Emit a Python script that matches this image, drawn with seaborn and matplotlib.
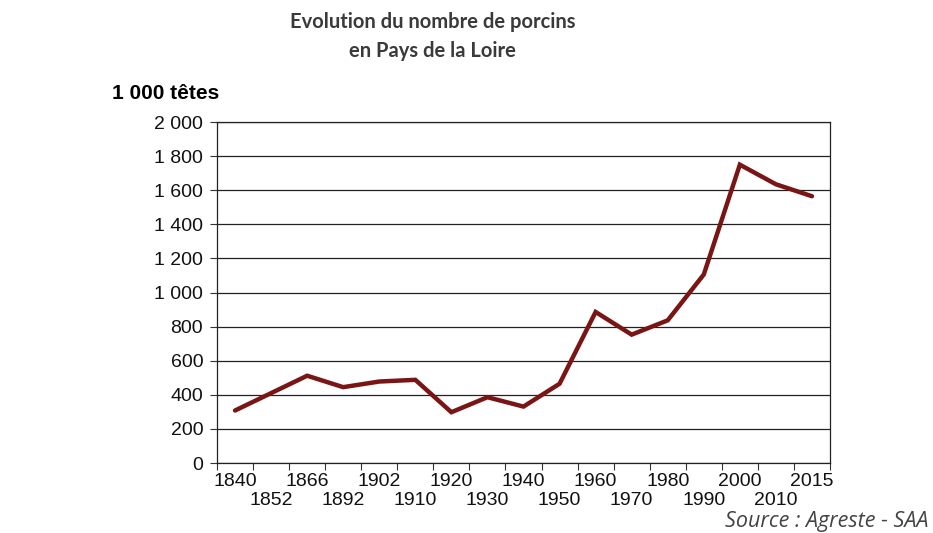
import matplotlib
matplotlib.use("Agg")
import matplotlib.pyplot as plt
import seaborn as sns
import pandas as pd
import numpy as np

# --- data ------------------------------------------------------------------
annees = ["1840", "1852", "1866", "1892", "1902", "1910", "1920", "1930", "1940",
          "1950", "1960", "1970", "1980", "1990", "2000", "2010", "2015"]
porcins = [308, 410, 512, 445, 478, 488, 298, 386, 331,
           465, 886, 753, 837, 1106, 1750, 1635, 1565]
y_ticks = [0, 200, 400, 600, 800, 1000, 1200, 1400, 1600, 1800, 2000]

df = pd.DataFrame({"annee": annees, "porcins": porcins})
df["pos"] = np.arange(len(df))

sns.set_theme(style="white")
plt.rcParams["font.family"] = ["Liberation Sans", "DejaVu Sans"]

fig = plt.figure(figsize=(9.33, 5.33), dpi=100)
ax = fig.add_axes([0.2326, 0.1313, 0.657, 0.6397])

sns.lineplot(data=df, x="pos", y="porcins", ax=ax, color="#7a1515",
             linewidth=3.2, solid_joinstyle="miter")

ax.set_xlim(-0.5, len(annees) - 0.5)
ax.set_ylim(0, 2000)
ax.set_yticks(y_ticks)
ax.set_yticklabels([f"{v:,}".replace(",", " ") for v in y_ticks], fontsize=14,
                   color="#111111")
ax.yaxis.grid(True, color="#222222", linewidth=0.9)
ax.set_axisbelow(True)

# ticks at category boundaries, labels at centres on two rows
ax.set_xticks(np.arange(-0.5, len(annees), 1.0))
ax.set_xticklabels([])
ax.set_xticks(df["pos"], minor=True)
ax.set_xticklabels(annees, minor=True, fontsize=14, color="#111111")
ax.tick_params(axis="x", which="major", direction="out", length=5, width=0.8,
               color="#333333", bottom=True)
ax.tick_params(axis="x", which="minor", length=0)
for i, t in enumerate(ax.xaxis.get_minor_ticks()):
    t.set_pad(7 if i % 2 == 0 else 21)
ax.tick_params(axis="y", direction="out", length=5, width=0.8, color="#333333",
               left=True, pad=5)

for s in ax.spines.values():
    s.set_color("#222222")
    s.set_linewidth(0.9)

ax.set_xlabel("")
ax.set_ylabel("")

fig.text(0.464, 0.978, "Evolution du nombre de porcins\nen Pays de la Loire",
         ha="center", va="top", fontsize=14.5, fontweight="bold", color="#3a3a3a",
         family=["Lato", "DejaVu Sans"], linespacing=1.6)
fig.text(0.120, 0.815, "1 000 têtes", ha="left", va="baseline", fontsize=15,
         fontweight="bold", color="black")
fig.text(0.995, 0.002, "Source : Agreste - SAA", ha="right", va="bottom",
         fontsize=15.5, style="italic", color="#444444",
         family=["Open Sans", "DejaVu Sans"])

fig.savefig("out.png", dpi=100)
